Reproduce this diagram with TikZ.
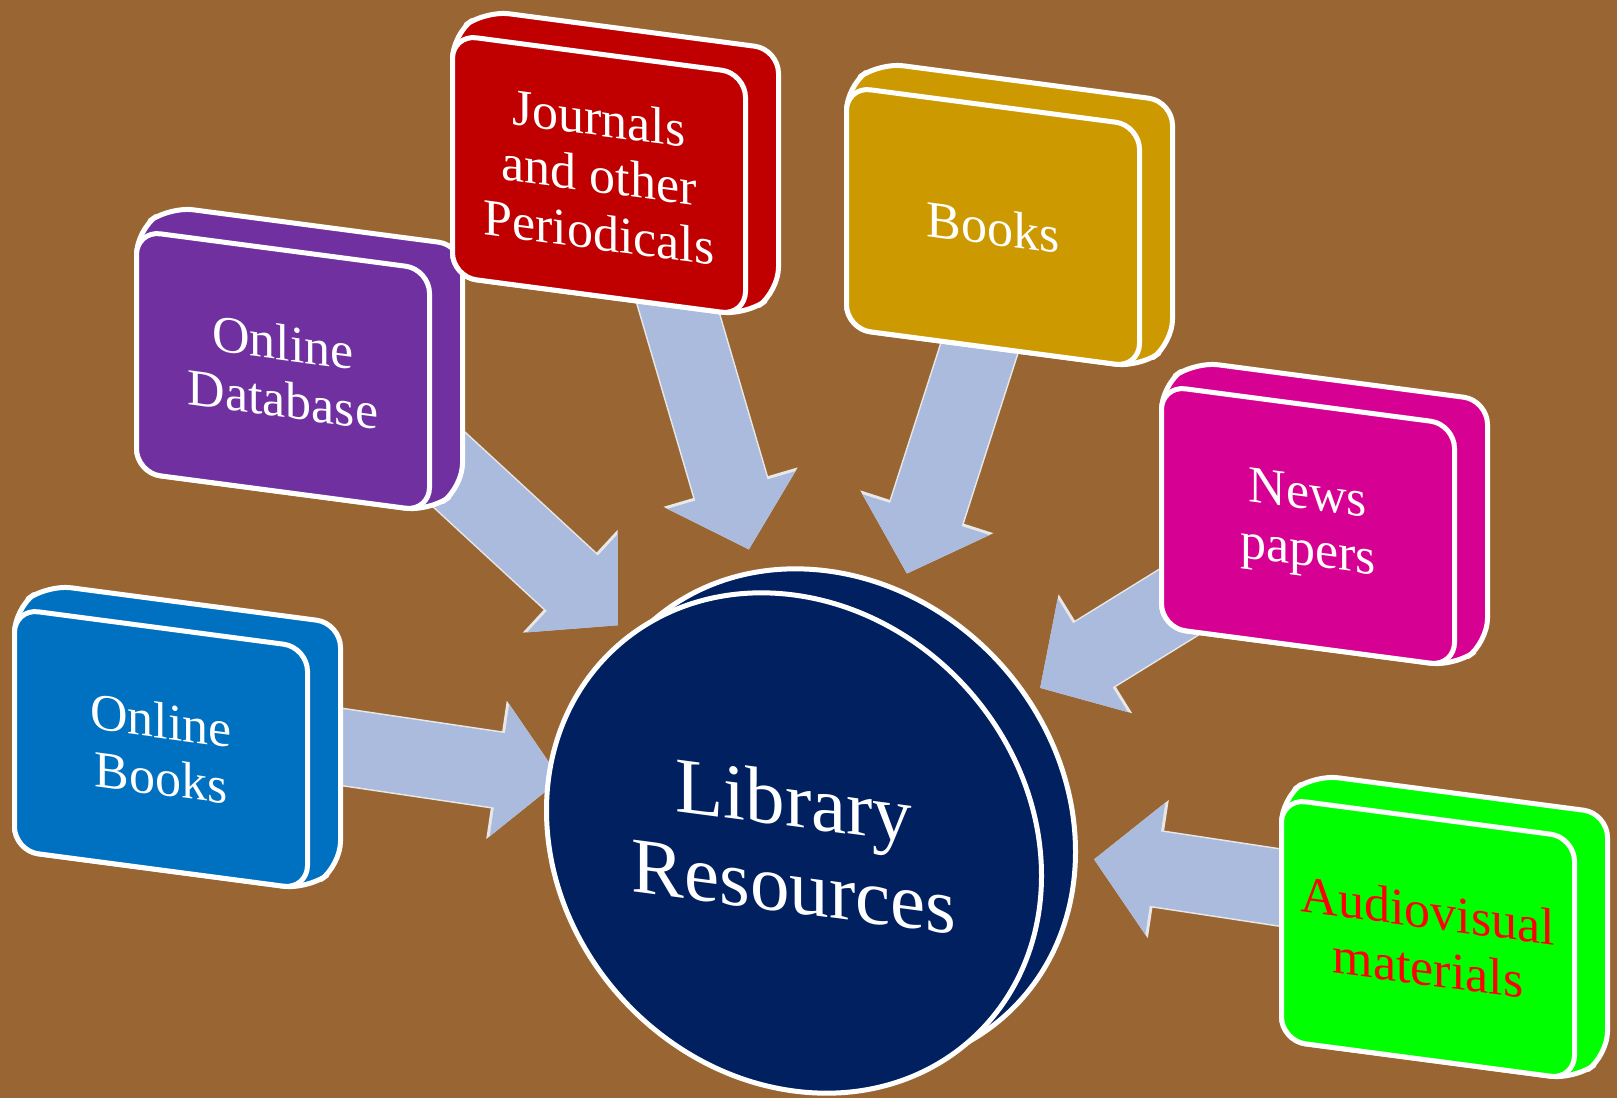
\documentclass[tikz,border=0pt]{standalone}
\usepackage{fontspec}
\setmainfont{Liberation Serif}
\usetikzlibrary{arrows.meta,shapes.geometric}

\definecolor{ground}{RGB}{153,102,51}
\definecolor{obblue}{RGB}{0,112,192}
\definecolor{dbpurple}{RGB}{112,48,160}
\definecolor{jrnred}{RGB}{192,0,0}
\definecolor{bksgold}{RGB}{204,153,0}
\definecolor{nwsmagenta}{RGB}{214,0,147}
\definecolor{avgreen}{RGB}{0,255,0}
\definecolor{avred}{RGB}{255,0,0}
\definecolor{hubnavy}{RGB}{0,32,96}
\definecolor{feedblue}{RGB}{170,187,222}
\definecolor{rimgray}{RGB}{232,232,232}

\pgfdeclarelayer{ground}
\pgfdeclarelayer{links}
\pgfdeclarelayer{sides}
\pgfsetlayers{ground,links,sides,main}

\begin{document}
\begin{tikzpicture}[x=0.5pt,y=-0.5pt,
    face/.style={rectangle,rounded corners=12pt,minimum width=146.5pt,minimum height=121pt,
      inner sep=0pt,outer sep=0pt,yslant=-0.132,draw=white,line width=2.5pt,align=center,
      font=\fontsize{26}{28.5}\selectfont},
    ghost/.style={rectangle,minimum width=146.5pt,minimum height=121pt,inner sep=0pt,
      outer sep=0pt,yslant=-0.132},
    side/.style={draw=white,line width=2.5pt,rounded corners=12pt,line join=round},
    hub/.style={ellipse,minimum width=247.5pt,minimum height=248pt,inner sep=0pt,outer sep=0pt,
      yslant=-0.132,fill=hubnavy,draw=white,line width=2.5pt,text=white,align=center,
      font=\fontsize{39.5}{43}\selectfont},
    feed/.style={draw=feedblue,line width=37.5pt,-{Triangle[width=65pt,length=31pt]}},
    feedrim/.style={draw=rimgray,line width=39pt,-{Triangle[width=68pt,length=32.5pt]}}]

  \begin{pgfonlayer}{ground}
    \fill[ground] (0,0) rectangle (1617,1098);
  \end{pgfonlayer}
  \useasboundingbox (0,0) rectangle (1617,1098);

  % centre disc
  \node[hub] (lib) at (794,843) {Library\\Resources};
  \begin{pgfonlayer}{sides}
    \node[hub] (lib-b) at ([shift={(34,-24)}]lib.center) {};
  \end{pgfonlayer}

  % resource boxes
  \foreach \n/\x/\y/\col/\ink/\txt in {
      ob/161/749/obblue/white/{Online\\Books},
      odb/283/371/dbpurple/white/{Online\\Database},
      jrn/599/175/jrnred/white/{Journals\\and other\\Periodicals},
      bks/993/227/bksgold/white/{Books},
      nws/1308/526/nwsmagenta/white/{News\\papers},
      av/1428/939/avgreen/avred/{Audiovisual\\materials}} {
    \node[face,fill=\col,text=\ink] (\n) at (\x,\y) {\txt};
    \node[ghost] (\n-b) at ([shift={(33,-24)}]\n.center) {};
    \begin{pgfonlayer}{sides}
      \draw[side,fill=\col] (\n.north west) -- (\n-b.north west) -- (\n-b.north east)
        -- (\n-b.south east) -- (\n.south east) -- (\n.south west) -- cycle;
    \end{pgfonlayer}
  }

  % arrows into the disc
  \begin{pgfonlayer}{links}
    \foreach \from/\gap in {ob/10pt,odb/10.7pt,jrn/11.9pt,bks/9.5pt,nws/8.2pt,av/9.4pt} {
      \draw[feedrim,shorten <=-20pt,shorten >=\gap] (\from-b) -- (lib-b);
      \draw[feed,shorten <=-20pt,shorten >=\gap] (\from-b) -- (lib-b);
    }
  \end{pgfonlayer}
\end{tikzpicture}
\end{document}
